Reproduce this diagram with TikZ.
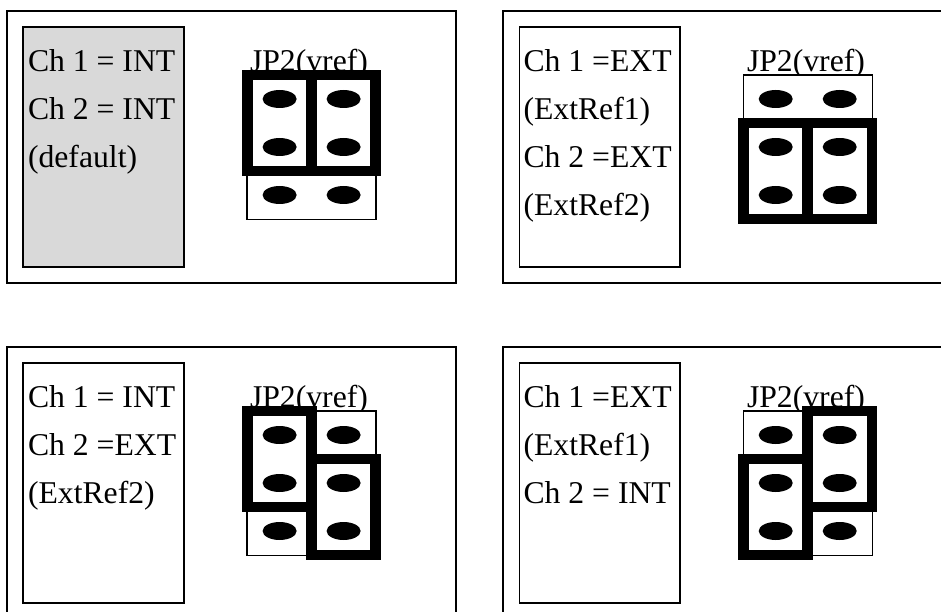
\documentclass[tikz,border=0pt]{standalone}
\usepackage{fontspec}
\setmainfont{Liberation Serif}
\definecolor{panelgray}{HTML}{D9D9D9}
\tikzset{
  frameline/.style={draw=black,line width=1.8pt},
  infobox/.style={draw=black,line width=1.8pt},
  header/.style={draw=black,fill=white,line width=1.5pt},
  jumper/.style={draw=black,line width=10.6pt,miter limit=10},
  pin/.style={fill=black},
  lbl/.style={anchor=base west,inner sep=0pt,outer sep=0pt,font=\fontsize{31.7}{32}\selectfont,text=black},
}
% #1 x of header left, #2 y offset: header with six pins
\newcommand{\headerpins}[2]{%
  \draw[header] (#1,75+#2) rectangle ++(129,144.5);
  \foreach \px in {32.4,96.4}
    \foreach \py in {99,147,195}
      \fill[pin] (#1+\px,\py+#2) ellipse [x radius=17,y radius=9];
}
\begin{document}
\begin{tikzpicture}[x=1pt,y=-1pt]
\useasboundingbox (0,0) rectangle (941,612);
\fill[white] (0,0) rectangle (941,612);
% outer frames
\draw[frameline] (7,11) rectangle (456,283);
\draw[frameline] (941,11) -- (503,11) -- (503,283) -- (941,283);
\draw[frameline] (7,612) -- (7,347) -- (456,347) -- (456,612);
\draw[frameline] (941,347) -- (503,347) -- (503,612);
% info boxes
\draw[infobox,fill=panelgray] (23,27) rectangle (184,267);
\draw[infobox] (519.5,27) rectangle (680,267);
\draw[infobox] (23,363) rectangle (184,603);
\draw[infobox] (519.5,363) rectangle (680,603);
% panel 1 text
\node[lbl] (a1) at (28,71.7) {Ch 1 = INT};
\node[lbl] (a2) at (28,119.7) {Ch 2 = INT};
\node[lbl] (a3) at (28,167.7) {(default)};
\node[lbl] (aj) at (250,71.7) {JP2(vref)};
% panel 2 text
\node[lbl] (b1) at (523.5,71.7) {Ch 1 =EXT};
\node[lbl] (b2) at (523.5,119.7) {(ExtRef1)};
\node[lbl] (b3) at (523.5,167.7) {Ch 2 =EXT};
\node[lbl] (b4) at (523.5,215.7) {(ExtRef2)};
\node[lbl] (bj) at (747,71.7) {JP2(vref)};
% panel 3 text
\node[lbl] (c1) at (28,407.7) {Ch 1 = INT};
\node[lbl] (c2) at (28,455.7) {Ch 2 =EXT};
\node[lbl] (c3) at (28,503.7) {(ExtRef2)};
\node[lbl] (cj) at (250,407.7) {JP2(vref)};
% panel 4 text
\node[lbl] (d1) at (523.5,407.7) {Ch 1 =EXT};
\node[lbl] (d2) at (523.5,455.7) {(ExtRef1)};
\node[lbl] (d3) at (523.5,503.7) {Ch 2 = INT};
\node[lbl] (dj) at (747,407.7) {JP2(vref)};
% headers
\headerpins{247.2}{0}
\headerpins{743.3}{0}
\headerpins{247.2}{336}
\headerpins{743.3}{336}
% jumpers panel 1
\draw[jumper] (247.3,75) rectangle (311.5,171);
\draw[jumper] (311.5,75) rectangle (375.7,171);
% jumpers panel 2
\draw[jumper] (743.6,123) rectangle (807.6,219);
\draw[jumper] (807.6,123) rectangle (871.8,219);
% jumpers panel 3
\draw[jumper] (247.3,411) rectangle (311.5,507);
\draw[jumper] (311.5,459) rectangle (375.7,555);
% jumpers panel 4
\draw[jumper] (807.6,411) rectangle (871.8,507);
\draw[jumper] (743.6,459) rectangle (807.6,555);
\end{tikzpicture}
\end{document}
